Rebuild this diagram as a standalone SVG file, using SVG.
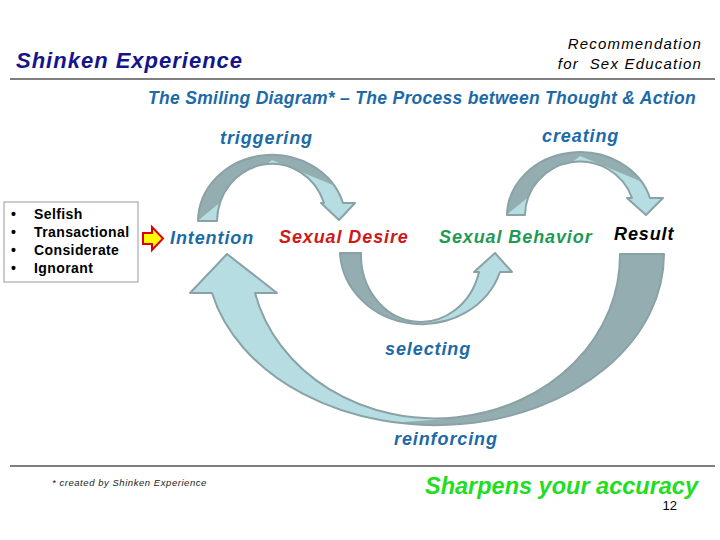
<svg xmlns="http://www.w3.org/2000/svg" width="720" height="540" viewBox="0 0 720 540">
<style>
text{font-family:"Liberation Sans",Arial,sans-serif}
.lbl{font-weight:bold;font-style:italic;font-size:18px;letter-spacing:0.9px}
.blue{fill:#1c6aa8}
.light{fill:#b6dde2;stroke:none}
.dark{fill:#94adb0;stroke:none}
.edge{fill:none;stroke:#8aa2a5;stroke-width:2;stroke-linejoin:round}
.rule{stroke:#000;stroke-width:1.2}
.item{font-weight:bold;font-size:14px;letter-spacing:0.4px;fill:#000}
.rec{font-size:15px;font-style:italic;fill:#000;letter-spacing:1.2px}
</style>
<defs>
<path id="a1" d="M198,221 A74 67 0 0 1 343,203 L355,203 L339,220 L321,203 L324,203 A55 58 0 0 0 217,221 Z"/>
<path id="a2" d="M507,215 A73 64 0 0 1 650,198 L663,198 L646,215 L627,198 L632,198 A55 54 0 0 0 525,215 Z"/>
<path id="a3" d="M340,253 A82 75 0 0 0 500,272 L512,272 L495,253 L474,272 L479,272 A60 67 0 0 1 361,253 Z"/>
<path id="a4" d="M664,254 A229 171 0 0 1 212,293 L190,293 L227,254 L277,293 L255,293 A185 163 0 0 0 620,254 Z"/>
<clipPath id="c1"><polygon points="150,120 400,120 345,190 272,160 150,260"/></clipPath>
<clipPath id="c2"><polygon points="450,100 720,100 652,186 580,156 450,260"/></clipPath>
<clipPath id="c3"><polygon points="300,240 412,240 412,326 460,317 505,283 530,283 530,360 300,360"/></clipPath>
<clipPath id="c4"><polygon points="445,200 720,200 720,480 390,480 390,423 445,419"/></clipPath>
</defs>

<g id="header">
<text x="16" y="68" font-size="22" font-weight="bold" font-style="italic" letter-spacing="1" fill="#14148c">Shinken Experience</text>
<text class="rec" x="702" y="49" text-anchor="end">Recommendation</text>
<text class="rec" x="702" y="69" text-anchor="end" xml:space="preserve">for  Sex Education</text>
<line class="rule" x1="10" y1="79" x2="715" y2="79"/>
<text x="696" y="104" font-size="17.5" font-weight="bold" font-style="italic" letter-spacing="0.3" text-anchor="end" class="blue">The Smiling Diagram* – The Process between Thought &amp; Action</text>
</g>

<g id="connectors">
<g id="arrow-triggering">
<use href="#a1" class="light"/>
<use href="#a1" class="dark" clip-path="url(#c1)"/>
<use href="#a1" class="edge"/>
</g>
<g id="arrow-creating">
<use href="#a2" class="light"/>
<use href="#a2" class="dark" clip-path="url(#c2)"/>
<use href="#a2" class="edge"/>
</g>
<g id="arrow-selecting">
<use href="#a3" class="light"/>
<use href="#a3" class="dark" clip-path="url(#c3)"/>
<use href="#a3" class="edge"/>
</g>
<g id="arrow-reinforcing">
<use href="#a4" class="light"/>
<use href="#a4" class="dark" clip-path="url(#c4)"/>
<use href="#a4" class="edge"/>
</g>
<polygon id="arrow-input" points="143,233 152,233 152,227 163,238.5 152,250 152,244 143,244" fill="#ffff00" stroke="#dd0000" stroke-width="2" stroke-linejoin="miter"/>
</g>

<g id="types">
<rect x="4" y="202" width="134" height="80" fill="#fff" stroke="#999" stroke-width="1"/>
<text class="item" x="11" y="219">•</text><text class="item" x="34" y="219">Selfish</text>
<text class="item" x="11" y="237">•</text><text class="item" x="34" y="237">Transactional</text>
<text class="item" x="11" y="255">•</text><text class="item" x="34" y="255">Considerate</text>
<text class="item" x="11" y="273">•</text><text class="item" x="34" y="273">Ignorant</text>
</g>

<g id="intention"><text class="lbl blue" x="170" y="244">Intention</text></g>
<g id="desire"><text class="lbl" x="279" y="243" fill="#d01818">Sexual Desire</text></g>
<g id="behavior"><text class="lbl" x="439" y="243" fill="#1f9a55">Sexual Behavior</text></g>
<g id="result"><text class="lbl" x="614" y="240" fill="#000">Result</text></g>

<g id="label-triggering"><text class="lbl blue" x="220" y="144" font-size="19" letter-spacing="0.5">triggering</text></g>
<g id="label-creating"><text class="lbl blue" x="542" y="142" font-size="19" letter-spacing="0.8">creating</text></g>
<g id="label-selecting"><text class="lbl blue" x="385" y="355" font-size="19" letter-spacing="0.6">selecting</text></g>
<g id="label-reinforcing"><text class="lbl blue" x="394" y="445" font-size="19" letter-spacing="0.4">reinforcing</text></g>

<g id="footer">
<line class="rule" x1="10" y1="466" x2="715" y2="466"/>
<text x="52" y="486" font-size="9.5" font-style="italic" letter-spacing="0.55" fill="#222">* created by Shinken Experience</text>
<text x="698" y="494" font-size="23.5" font-weight="bold" font-style="italic" text-anchor="end" fill="#22dd22">Sharpens your accuracy</text>
<text x="677" y="510" font-size="13" text-anchor="end" fill="#000">12</text>
</g>
</svg>
